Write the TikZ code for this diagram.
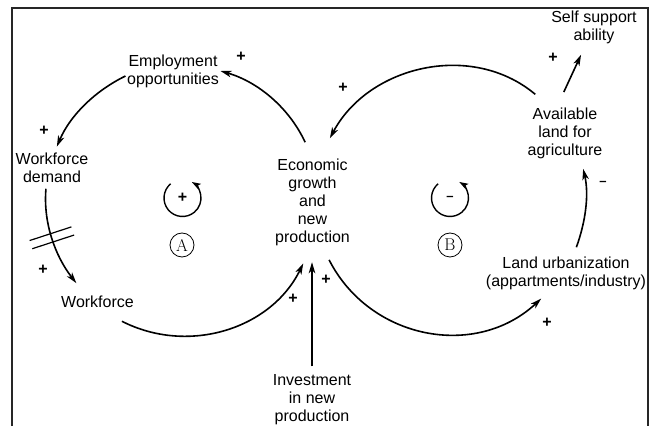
\documentclass[tikz,border=0pt]{standalone}
\usepackage{fontspec}
\setsansfont{Liberation Sans}
\usetikzlibrary{arrows.meta,decorations.markings}

\begin{document}
\begin{tikzpicture}[x=1pt,y=1pt,
  txt/.style={font=\sffamily\fontsize{16}{18}\selectfont, align=center, inner xsep=2pt, inner ysep=3pt},
  sgn/.style={font=\sffamily\bfseries\fontsize{16}{18}\selectfont, inner sep=0pt},
  dsh/.style={font=\sffamily\bfseries\fontsize{13}{14}\selectfont, inner sep=0pt},
  link/.style={line width=1.6pt, -{Stealth[length=11pt,width=6.5pt,inset=3pt]}},
  loopmark/.style={line width=1.4pt, -{Stealth[length=9pt,width=6pt,inset=2pt]}},
  tag/.style={circle, draw, line width=0.8pt, minimum size=24pt, inner sep=0pt, font=\fontsize{17}{17}\selectfont},
  delay/.style={postaction={decorate}, decoration={markings, mark=at position 0.49 with {\draw[line width=1.2pt,-] (-4.3,-22) -- (-4.3,22) (4.3,-22) -- (4.3,22);}}},
]
\useasboundingbox (0,0) rectangle (659,426);
% frame
\draw[line width=1.5pt, black!85] (12,0) -- (12,418) -- (648,418) -- (648,0);

% variables
\node[txt, circle, inner sep=0pt, minimum size=120pt] (eco) at (312.5,224) {Economic\\growth\\and\\new\\production};
\node[txt, inner xsep=1.5pt] (emp) at (173,355) {Employment\\opportunities};
\node[txt, inner ysep=6pt] (wfd) at (52,258.3) {Workforce\\demand};
\node[txt, inner xsep=3pt, inner ysep=13pt] (wf) at (97.5,123.8) {Workforce};
\node[txt, inner xsep=1pt, inner ysep=9pt] (land) at (566,153.1) {Land urbanization\\(appartments/industry)};
\node[txt, inner ysep=10pt] (avail) at (565,292.8) {Available\\land for\\agriculture};
\node[txt] (self) at (594,399.1) {Self support\\ability};
\node[txt] (inv) at (312,26.3) {Investment\\in new\\production};

% loop markers
\node[sgn] (loopA) at (182.5,228) {+};
\draw[loopmark] ([shift={(130:18.5)}]loopA.center) arc[start angle=130, end angle=420, radius=18.5];
\node[dsh] (loopB) at (450,228) {–};
\draw[loopmark] ([shift={(130:18.5)}]loopB.center) arc[start angle=130, end angle=420, radius=18.5];
\node[tag] (tagA) at (182,181) {A};
\node[tag] (tagB) at (450,181) {B};

% loop A
\draw[link] (eco.97) to[out=115,in=-16,looseness=0.89] (emp.east);
\draw[link] (emp.186) to[out=206,in=67,looseness=0.88] (wfd.77);
\draw[link, delay] (wfd.254) to[out=265,in=128,looseness=0.88] (wf.138);
\draw[link, shorten >=2pt] (wf.322) to[out=-27,in=244,looseness=1.0] (eco.262);

% loop B
\draw[link] (eco.286) to[out=297,in=223,looseness=1.06] (land.226);
\draw[link] (land.68) to[out=70,in=-77,looseness=0.87] (avail.297);
\draw[link, shorten <=5pt, shorten >=6pt] (avail.126) to[out=140,in=62,looseness=1.04] (eco.76);

% other links
\draw[link, shorten <=6pt, shorten >=9pt] (avail.96) -- (self.245);
\draw[link, shorten <=5pt] (inv.north) -- (inv.north |- eco.south);

% polarities
\node[sgn] (s1) at (241,369) {+};
\node[sgn] (s2) at (44,295) {+};
\node[sgn] (s3) at (43,156) {+};
\node[sgn] (s4) at (293,127) {+};
\node[sgn] (s5) at (326,146) {+};
\node[sgn] (s6) at (547,103) {+};
\node[dsh] (s7) at (603,243) {–};
\node[sgn] (s8) at (553,368) {+};
\node[sgn] (s9) at (343,338) {+};
\end{tikzpicture}
\end{document}
